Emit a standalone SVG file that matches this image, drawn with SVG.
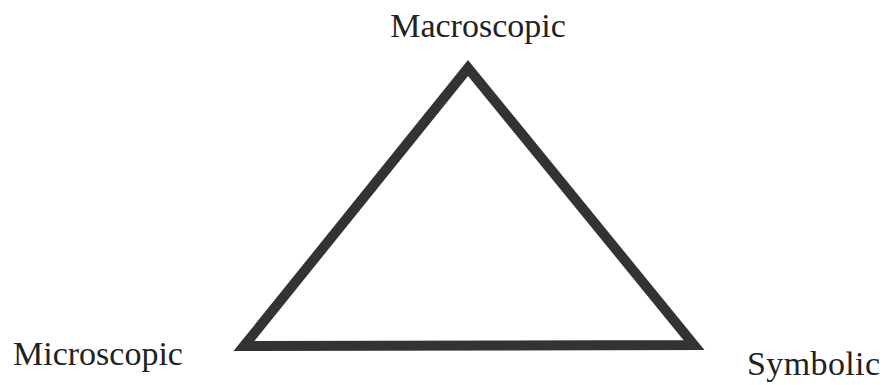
<svg xmlns="http://www.w3.org/2000/svg" width="884" height="385" viewBox="0 0 884 385">
<style>
.lbl{font-family:"Liberation Serif","Times New Roman",serif;font-size:34px;fill:#222;}
.edge{fill:none;stroke:#333;stroke-width:10;stroke-linejoin:miter;}
</style>
<rect width="884" height="385" fill="#fff"/>
<g id="connectors">
<polygon class="edge" points="244,346 468,68 694,345"/>
</g>
<g id="macroscopic"><text class="lbl" x="478" y="37" text-anchor="middle">Macroscopic</text></g>
<g id="microscopic"><text class="lbl" x="13" y="365">Microscopic</text></g>
<g id="symbolic"><text class="lbl" x="747" y="375" textLength="133">Symbolic</text></g>
</svg>
